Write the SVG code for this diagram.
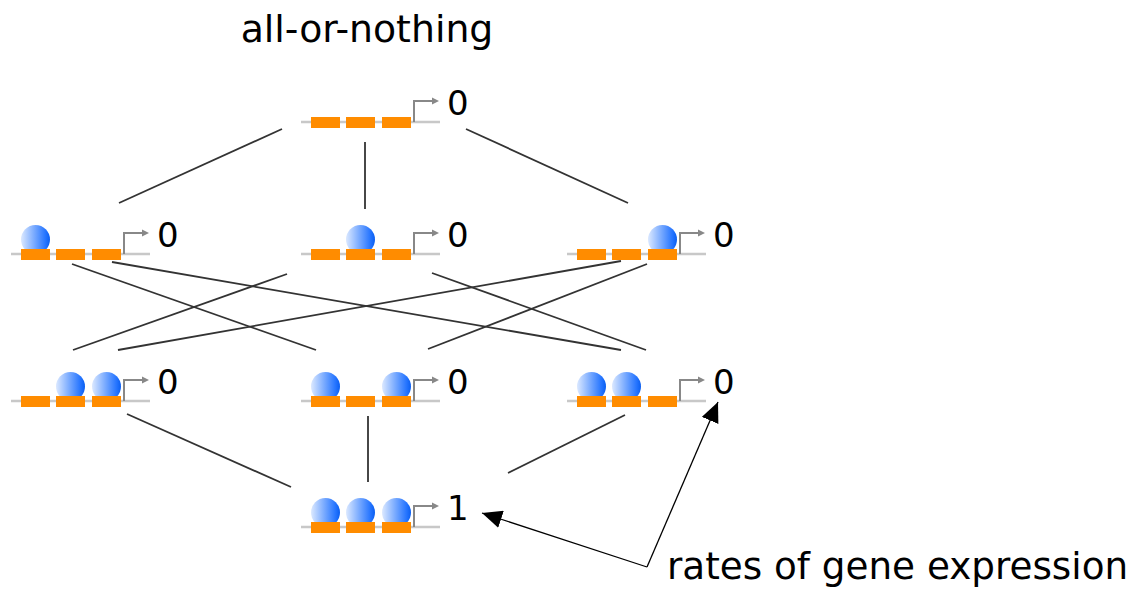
<svg xmlns="http://www.w3.org/2000/svg" width="1132" height="589" viewBox="0 0 1132 589">
<defs>
<linearGradient id="blob" x1="0" y1="0" x2="1" y2="0">
<stop offset="0" stop-color="#dce9ff"/>
<stop offset="0.45" stop-color="#7aabff"/>
<stop offset="0.85" stop-color="#2474ff"/>
<stop offset="1" stop-color="#0a5ef0"/>
</linearGradient>
<marker id="ah" viewBox="0 0 20 18" refX="20" refY="9" markerWidth="20" markerHeight="18" markerUnits="userSpaceOnUse" orient="auto">
<path d="M0,0 L20,9 L0,18 z" fill="#000"/>
</marker>
<g id="dna">
<line x1="0" y1="0" x2="139" y2="0" stroke="#c8c8c8" stroke-width="2.5"/>
<path d="M113,0 V-21 H132" fill="none" stroke="#888" stroke-width="2"/>
<path d="M131,-24.5 L138,-21 L131,-17.5 z" fill="#888"/>
</g>
<g id="boxes">
<rect x="10" y="-5" width="29" height="11" fill="#ff8c00"/>
<rect x="45" y="-5" width="29" height="11" fill="#ff8c00"/>
<rect x="81" y="-5" width="29" height="11" fill="#ff8c00"/>
</g>
</defs>
<style>
.t{font-family:"DejaVu Sans","Verdana",sans-serif;fill:#000}
.d{font-family:"DejaVu Sans","Verdana",sans-serif;font-size:34px;fill:#000}
.c{stroke:#333;stroke-width:1.8;fill:none}
.b{fill:url(#blob)}
.a{stroke:#000;stroke-width:1.3;fill:none}
</style>
<text class="t" x="367" y="42" font-size="37.8" text-anchor="middle">all-or-nothing</text>

<g id="connectors">
<line class="c" x1="282" y1="129" x2="119" y2="203"/>
<line class="c" x1="365" y1="142" x2="365" y2="209"/>
<line class="c" x1="466" y1="129" x2="628" y2="203"/>
<line class="c" x1="72" y1="264" x2="316" y2="350"/>
<line class="c" x1="112" y1="262" x2="621" y2="350"/>
<line class="c" x1="287" y1="274" x2="73" y2="350"/>
<line class="c" x1="432" y1="273" x2="646" y2="350"/>
<line class="c" x1="621" y1="261" x2="118" y2="350"/>
<line class="c" x1="647" y1="264" x2="428" y2="349"/>
<line class="c" x1="127" y1="414" x2="291" y2="487"/>
<line class="c" x1="368" y1="416" x2="368" y2="482"/>
<line class="c" x1="625" y1="415" x2="508" y2="473"/>
</g>

<g id="n000" transform="translate(301,122)">
<use href="#dna"/><use href="#boxes"/>
<text class="d" x="146" y="-7">0</text>
</g>

<g id="n100" transform="translate(11,254)">
<use href="#dna"/>
<circle class="b" cx="24.5" cy="-14.5" r="14.5"/>
<use href="#boxes"/>
<text class="d" x="146" y="-7">0</text>
</g>
<g id="n010" transform="translate(301,254)">
<use href="#dna"/>
<circle class="b" cx="59.5" cy="-14.5" r="14.5"/>
<use href="#boxes"/>
<text class="d" x="146" y="-7">0</text>
</g>
<g id="n001" transform="translate(567,254)">
<use href="#dna"/>
<circle class="b" cx="95.5" cy="-14.5" r="14.5"/>
<use href="#boxes"/>
<text class="d" x="146" y="-7">0</text>
</g>

<g id="n011" transform="translate(11,401)">
<use href="#dna"/>
<circle class="b" cx="59.5" cy="-14.5" r="14.5"/>
<circle class="b" cx="95.5" cy="-14.5" r="14.5"/>
<use href="#boxes"/>
<text class="d" x="146" y="-7">0</text>
</g>
<g id="n101" transform="translate(301,401)">
<use href="#dna"/>
<circle class="b" cx="24.5" cy="-14.5" r="14.5"/>
<circle class="b" cx="95.5" cy="-14.5" r="14.5"/>
<use href="#boxes"/>
<text class="d" x="146" y="-7">0</text>
</g>
<g id="n110" transform="translate(567,401)">
<use href="#dna"/>
<circle class="b" cx="24.5" cy="-14.5" r="14.5"/>
<circle class="b" cx="59.5" cy="-14.5" r="14.5"/>
<use href="#boxes"/>
<text class="d" x="146" y="-7">0</text>
</g>

<g id="n111" transform="translate(301,527)">
<use href="#dna"/>
<circle class="b" cx="24.5" cy="-14.5" r="14.5"/>
<circle class="b" cx="59.5" cy="-14.5" r="14.5"/>
<circle class="b" cx="95.5" cy="-14.5" r="14.5"/>
<use href="#boxes"/>
<text class="d" x="146" y="-7">1</text>
</g>

<g id="annotation">
<line class="a" x1="647" y1="567" x2="718" y2="402" marker-end="url(#ah)"/>
<line class="a" x1="647" y1="567" x2="482" y2="513" marker-end="url(#ah)"/>
<text class="t" x="667" y="579" font-size="37.3">rates of gene expression</text>
</g>
</svg>
